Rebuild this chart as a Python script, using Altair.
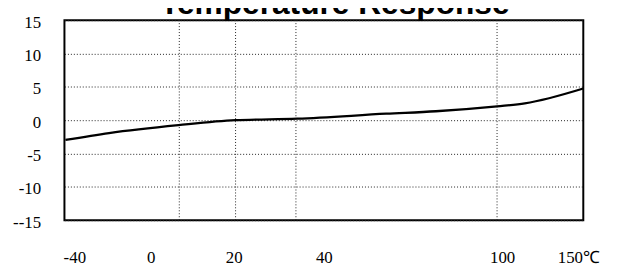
import altair as alt
import pandas as pd

# ---- data ----
temps = [-44.5, -21.8, 6.7, 20.4, 34.1, 61.0, 77.7, 98.3, 114.9, 153.0]
response = [-2.97, -1.93, -0.74, 0.0, 0.22, 0.97, 1.34, 2.08, 2.52, 4.75]
grid_temps = [6.9, 20.4, 33.8, 98.3]
x_ticks = [-40, 0, 20, 40, 100, 150]
y_ticks = [-15, -10, -5, 0, 5, 10, 15]
title_text = ["Temperature Response"]

# piecewise x scale (the printed axis is not linear)
x_domain = [-45, -40, 0, 20, 40, 100, 150, 153]
x_range = [0, 10, 87, 171, 262, 442, 519, 524]

SERIF = "Liberation Serif, Times New Roman, serif"

x_scale = alt.Scale(domain=x_domain, range=x_range, nice=False, zero=False)
y_scale = alt.Scale(domain=[-15, 15], nice=False, zero=False)

x_axis = alt.Axis(
    values=x_ticks,
    labelExpr="datum.value == 150 ? '150℃' : '' + datum.value",
    grid=False, domain=False, ticks=False, tickSize=0,
    labelPadding=43, labelBaseline="alphabetic",
    labelFont=SERIF, labelFontSize=17, labelColor="black",
    labelFlush=False, labelOverlap=False, title=None,
)
y_axis = alt.Axis(
    values=y_ticks,
    labelExpr="datum.value == -15 ? '--15' : '' + datum.value",
    grid=True, gridDash=[1, 2], gridColor="#222222", gridWidth=1,
    domain=False, ticks=False, tickSize=0,
    labelPadding=24, labelBaseline="middle", labelOffset=2,
    labelFont=SERIF, labelFontSize=17, labelColor="black",
    labelFlush=False, labelOverlap=False, title=None,
)

line_df = pd.DataFrame({"t": temps, "r": response})
grid_df = pd.DataFrame({"t": grid_temps})
title_df = pd.DataFrame({"label": title_text})

x_enc = alt.X("t:Q", scale=x_scale, axis=x_axis)

grid = alt.Chart(grid_df).mark_rule(
    color="#222222", strokeDash=[1, 2], strokeWidth=1
).encode(x=x_enc)

line = alt.Chart(line_df).mark_line(
    color="black", strokeWidth=2.3, interpolate="monotone"
).encode(
    x=x_enc,
    y=alt.Y("r:Q", scale=y_scale, axis=y_axis),
)

title = alt.Chart(title_df).mark_text(
    font="Liberation Sans, Arial, sans-serif", fontWeight="bold", fontSize=32,
    align="center", baseline="alphabetic", color="black",
).encode(x=alt.value(273), y=alt.value(-6), text="label:N")

chart = alt.layer(grid, line, title).properties(
    width=524, height=202,
    padding={"left": 57, "top": 11, "right": 30, "bottom": 48},
    autosize=alt.AutoSizeParams(type="none"),
    background="white",
).configure_view(
    stroke="black", strokeWidth=2
).configure_axis(
    labelFont=SERIF
)

chart.save("out.html", embed_options={"renderer": "svg", "actions": False})
